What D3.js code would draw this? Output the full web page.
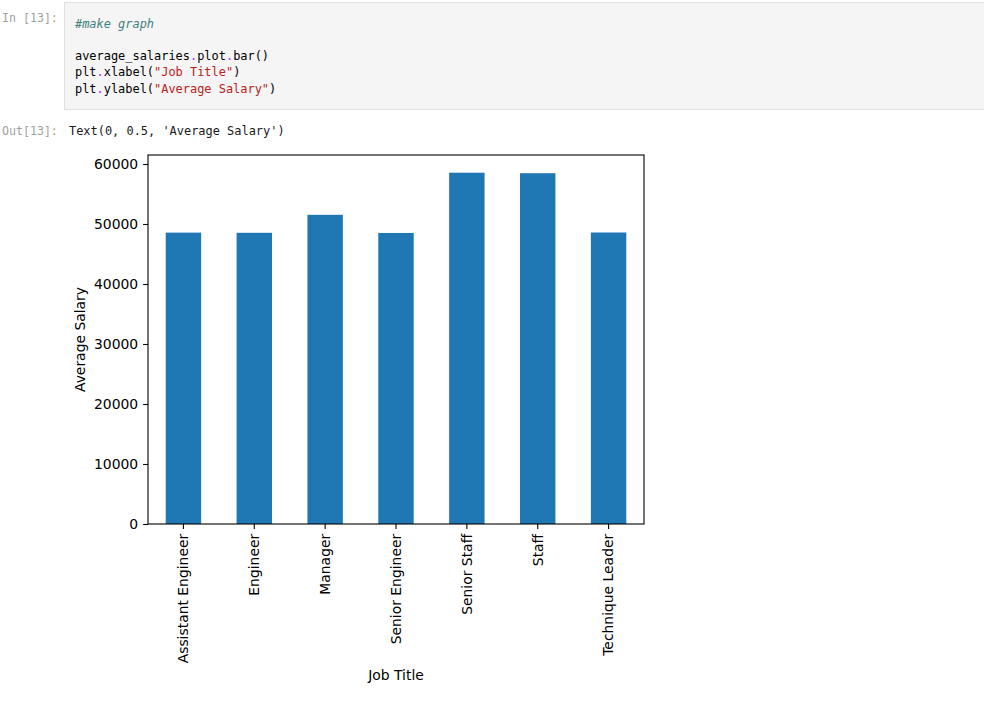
<!DOCTYPE html>
<html><head><meta charset="utf-8">
<script src="https://cdn.jsdelivr.net/npm/d3@7"></script>
<style>
html,body{margin:0;padding:0;background:#fff;}
svg{display:block;}
</style></head>
<body>
<svg id="c" width="984" height="704"></svg>
<script>
const categories = ["Assistant Engineer","Engineer","Manager","Senior Engineer","Senior Staff","Staff","Technique Leader"];
const salaries = [48564.43, 48535.34, 51531.04, 48506.80, 58550.17, 58465.38, 48582.90];
const yTicks = [0,10000,20000,30000,40000,50000,60000];
const codeLines = [
  [["#make graph","#408080","italic"]],
  [],
  [["average_salaries","#000"],[".","#AA22FF"],["plot","#000"],[".","#AA22FF"],["bar()","#000"]],
  [["plt","#000"],[".","#AA22FF"],["xlabel(","#000"],["\"Job Title\"","#BA2121"],[")","#000"]],
  [["plt","#000"],[".","#AA22FF"],["ylabel(","#000"],["\"Average Salary\"","#BA2121"],[")","#000"]]
];
const outText = "Text(0, 0.5, 'Average Salary')";

const svg = d3.select("#c");
const mono = "'DejaVu Sans Mono','Liberation Mono',monospace";
const sans = "'DejaVu Sans',sans-serif";

// code cell
svg.append("rect").attr("x",64.5).attr("y",2.5).attr("width",930).attr("height",107)
  .attr("fill","#f5f5f5").attr("stroke","#e0e0e0").attr("stroke-width",1);
svg.append("text").attr("x",2).attr("y",22).attr("font-family",mono).attr("font-size",11.6)
  .attr("fill","#a0a0a0").text("In [13]:");
codeLines.forEach((parts,i)=>{
  const t = svg.append("text").attr("x",75).attr("y",27.5+i*16.3)
    .attr("font-family",mono).attr("font-size",11.95).attr("xml:space","preserve");
  parts.forEach(p=>{
    t.append("tspan").attr("fill",p[1]).attr("font-style",p[2]||"normal").text(p[0]);
  });
});
svg.append("text").attr("x",2).attr("y",135).attr("font-family",mono).attr("font-size",11.6)
  .attr("fill","#a0a0a0").text("Out[13]:");
svg.append("text").attr("x",69).attr("y",135).attr("font-family",mono).attr("font-size",11.95)
  .attr("fill","#1a1a1a").text(outText);

// chart
const L=148, R=644, T=155, B=524;
const x = d3.scaleBand().domain(categories).range([L,R]).paddingInner(0.5).paddingOuter(0.25);
const y = d3.scaleLinear().domain([0,61500]).range([B,T]);

svg.append("g").selectAll("rect").data(categories).join("rect")
  .attr("x",d=>x(d)).attr("width",x.bandwidth())
  .attr("y",(d,i)=>y(salaries[i])).attr("height",(d,i)=>B-y(salaries[i]))
  .attr("fill","#1f77b4");

const yAxis = svg.append("g").attr("transform",`translate(${L},0)`)
  .call(d3.axisLeft(y).tickValues(yTicks).tickFormat(d3.format("d")).tickSize(4.9).tickPadding(4.9));
const xAxis = svg.append("g").attr("transform",`translate(0,${B})`)
  .call(d3.axisBottom(x).tickSize(4.9).tickPadding(4.9));
[yAxis,xAxis].forEach(a=>{
  a.select(".domain").remove();
  a.selectAll(".tick line").attr("stroke","#000").attr("stroke-width",1.1);
  a.selectAll("text").attr("font-family",sans).attr("font-size",13.9).attr("fill","#000");
});
xAxis.selectAll(".tick text")
  .attr("transform","rotate(-90)").attr("text-anchor","end")
  .attr("x",-9.8).attr("y",0).attr("dy","0.35em");

svg.append("rect").attr("x",L).attr("y",T).attr("width",R-L).attr("height",B-T)
  .attr("fill","none").attr("stroke","#000").attr("stroke-width",1.1);

svg.append("text").attr("transform",`translate(80,${(T+B)/2}) rotate(-90)`)
  .attr("text-anchor","middle").attr("dy","0.35em")
  .attr("font-family",sans).attr("font-size",13.9).attr("fill","#000").text("Average Salary");
svg.append("text").attr("x",(L+R)/2).attr("y",675).attr("dy","0.35em")
  .attr("text-anchor","middle").attr("font-family",sans).attr("font-size",13.9)
  .attr("fill","#000").text("Job Title");
</script>
</body></html>
